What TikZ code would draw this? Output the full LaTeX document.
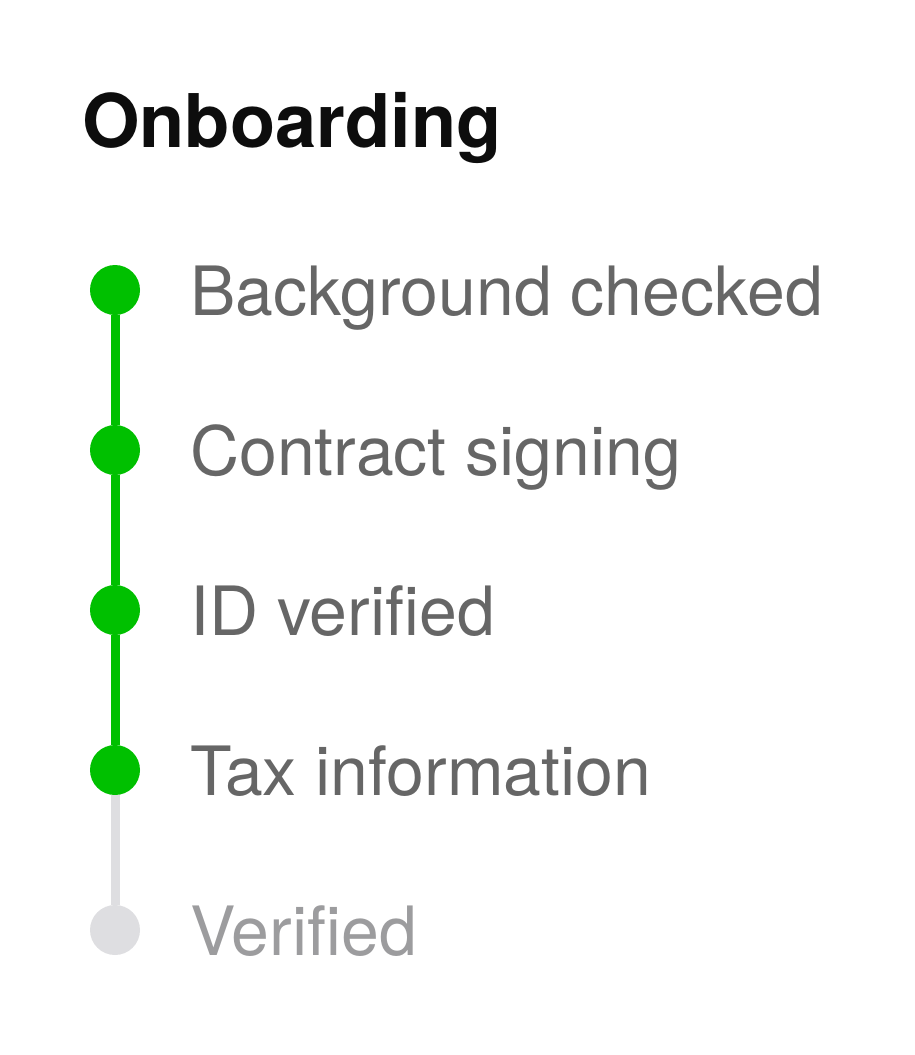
\documentclass[tikz,border=0pt]{standalone}
\usepackage{fontspec}
\setmainfont{TeX Gyre Heros}
\usepackage{xcolor}
\usepackage{tikz}

\definecolor{donegreen}{HTML}{00C000}
\definecolor{todogray}{HTML}{DEDEE1}
\definecolor{labelgray}{HTML}{666666}
\definecolor{faintgray}{HTML}{9C9C9E}

\begin{document}
\begin{tikzpicture}[x=1pt,y=-1pt,
    dot/.style={circle,fill=#1,minimum size=50pt,inner sep=0pt},
    steplabel/.style={anchor=base west,inner sep=0pt,font=\fontsize{68}{72}\selectfont,text=#1}]
    \useasboundingbox (0,0) rectangle (915,1055);
    \node[anchor=base west,inner sep=0pt,font=\fontsize{74}{80}\selectfont\bfseries,text=black!95] (title) at (82,147) {Onboarding};
    % steps
    \node[dot=donegreen](d1) at (115,290){};
    \node[dot=donegreen](d2) at (115,450){};
    \node[dot=donegreen](d3) at (115,610){};
    \node[dot=donegreen](d4) at (115,770){};
    \node[dot=todogray](d5) at (115,930){};
    \draw[donegreen,line width=9pt] (d1) -- (d2) -- (d3) -- (d4);
    \draw[todogray,line width=9pt] (d4) -- (d5);
    \node[steplabel=labelgray](l1) at (190,315){Background checked};
    \node[steplabel=labelgray](l2) at (190,475){Contract signing};
    \node[steplabel=labelgray](l3) at (190,635){ID verified};
    \node[steplabel=labelgray](l4) at (190,795){Tax information};
    \node[steplabel=faintgray](l5) at (190,955){Verified};
\end{tikzpicture}
\end{document}
